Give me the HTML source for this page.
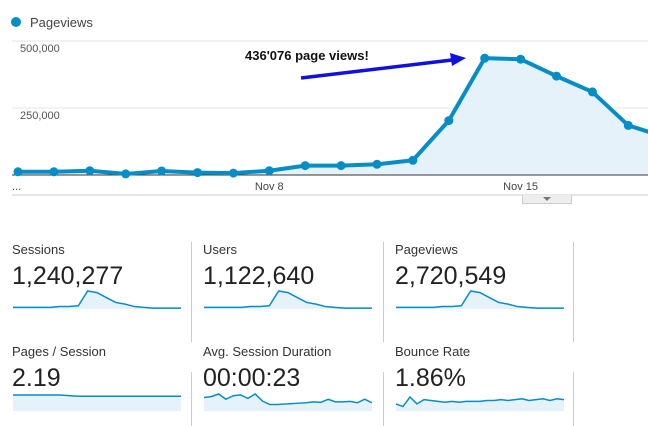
<!DOCTYPE html>
<html><head><meta charset="utf-8"><style>
body{margin:0;width:648px;height:426px;background:#fff;font-family:"Liberation Sans",Arial,sans-serif;overflow:hidden;position:relative}
.t{position:absolute;white-space:nowrap}
.lab{font-size:13px;color:#333}
.val{font-size:25px;color:#222}
.div{position:absolute;width:1px;background:#ccc}
</style></head><body>
<svg id="main" width="648" height="210" style="position:absolute;left:0;top:0"></svg>
<div class="t" style="left:30px;top:15px;font-size:13px;color:#444">Pageviews</div>
<div class="t" style="left:245px;top:48px;font-size:13px;font-weight:bold;color:#111">436'076 page views!</div>
<div style="position:absolute;left:522px;top:195px;width:48px;height:8px;background:#eee;border:1px solid #ccc;border-top:none"><div style="margin:2px auto 0;width:0;height:0;border-left:4px solid transparent;border-right:4px solid transparent;border-top:4px solid #777"></div></div>

<div class="div" style="left:191px;top:242px;height:100px"></div>
<div class="div" style="left:383px;top:242px;height:100px"></div>
<div class="div" style="left:573px;top:242px;height:100px"></div>
<div class="div" style="left:191px;top:372px;height:54px"></div>
<div class="div" style="left:383px;top:372px;height:54px"></div>
<div class="div" style="left:573px;top:372px;height:54px"></div>

<div id="cards"></div>
<script>
const categories=["Nov 1","Nov 2","Nov 3","Nov 4","Nov 5","Nov 6","Nov 7","Nov 8","Nov 9","Nov 10","Nov 11","Nov 12","Nov 13","Nov 14","Nov 15","Nov 16","Nov 17","Nov 18","Nov 19"];
const pageviews=[12000,12000,16000,4000,15000,9000,7000,16000,35000,35000,40000,55000,203000,436076,432000,369000,310000,185000,143000];
const yTicks=[250000,500000];
const yTickLabels=["250,000","500,000"];
const xLabels=[{i:7,t:"Nov 8"},{i:14,t:"Nov 15"}];

const sessionsSpark=[2,2,2,2,2,3,3,4,22,20,14,8,6,3,2,1,1,1,1];
const usersSpark=[2,2,2,2,2,3,3,4,22,20,14,8,6,3,2,1,1,1,1];
const pvSpark=[2,2,2,2,2,3,3,4,22,20,14,8,6,3,2,1,1,1,1];
const ppsSpark=[14,14,14,14,14,14,13.5,13,13,13,13,13,13,13,13,13,13,13,13];
const durSpark=[12,13,16,10,14,15,11,16,8,4,4,4.5,5,5.5,6,7,6.5,10,7,7,7.5,6,10,6];
const bounceSpark=[7,4,15,7,12,11,10,9,10,9,10,10,10,11,11,12,11,12,13,11,12,13,11,13,12];

const NS="http://www.w3.org/2000/svg";
const svg=document.getElementById('main');
function el(tag,attrs,parent){const e=document.createElementNS(NS,tag);for(const k in attrs)e.setAttribute(k,attrs[k]);(parent||svg).appendChild(e);return e;}
const xS=i=>18+i*35.9;
const yS=v=>175-v/500000*134;

// legend dot
let d=el('circle',{cx:16,cy:22,r:5,fill:'#058dc7'});


// gridlines
let g=el('line',{x1:12,x2:648,y1:yS(500000),y2:yS(500000),stroke:'#e6e6e6'});


yTicks.forEach((v,k)=>{
  const l=el('line',{x1:12,x2:648,y1:yS(v),y2:yS(v),stroke:'#e6e6e6'});
  
  
  const t=el('text',{x:20,y:yS(v)+11,'font-size':11,fill:'#555'});t.textContent=yTickLabels[k];
  
  
});
// area
let pts=pageviews.map((v,i)=>xS(i)+','+yS(v)).join(' ');
let a=el('polygon',{points:xS(0)+','+yS(0)+' '+pts+' '+xS(pageviews.length-1)+','+yS(0),fill:'#e6f2f9'});


let ax=el('line',{x1:12,x2:648,y1:175,y2:175,stroke:'#333','stroke-width':1});


let ln=el('polyline',{points:pts,fill:'none',stroke:'#058dc7','stroke-width':4,'stroke-linejoin':'round'});


pageviews.forEach((v,i)=>{
  const c=el('circle',{cx:xS(i),cy:yS(v),r:4.5,fill:'#058dc7'});
  
  
});
xLabels.forEach(o=>{
  const t=el('text',{x:xS(o.i),y:190,'font-size':11,fill:'#444','text-anchor':'middle'});t.textContent=o.t;
  
  
});
let dots=el('text',{x:12,y:190,'font-size':11,fill:'#444'});dots.textContent='...';


let bl=el('line',{x1:12,x2:648,y1:195,y2:195,stroke:'#ccc'});


// arrow
let ar=el('line',{x1:301,y1:78,x2:452,y2:60,stroke:'#1010e0','stroke-width':3.5});


let ah=el('polygon',{points:'466,58 450,53 452,66',fill:'#1010e0'});



// cards
const cards=[
 {n:'sessions',l:'Sessions',v:'1,240,277',x:12,y:242,s:sessionsSpark,max:22,base:309,h:18,fb:309},
 {n:'users',l:'Users',v:'1,122,640',x:203,y:242,s:usersSpark,max:22,base:309,h:18,fb:309},
 {n:'pageviews',l:'Pageviews',v:'2,720,549',x:395,y:242,s:pvSpark,max:22,base:309,h:18,fb:309},
 {n:'pages-per-session',l:'Pages / Session',v:'2.19',x:12,y:344,s:ppsSpark,max:14,base:412,h:17,fb:411},
 {n:'avg-session-duration',l:'Avg. Session Duration',v:'00:00:23',x:203,y:344,s:durSpark,max:16,base:408,h:14,fb:411},
 {n:'bounce-rate',l:'Bounce Rate',v:'1.86%',x:395,y:344,s:bounceSpark,max:15,base:410,h:13,fb:411}
];
const wrap=document.getElementById('cards');
cards.forEach(c=>{
  const lab=document.createElement('div');lab.className='t lab';lab.style.left=c.x+'px';lab.style.top=c.y+'px';lab.textContent=c.l;
  
  
  wrap.appendChild(lab);
  const val=document.createElement('div');val.className='t val';val.style.left=c.x+'px';val.style.top=(c.y+20)+'px';val.textContent=c.v;
  
  
  wrap.appendChild(val);
  const s=document.createElementNS(NS,'svg');s.setAttribute('width',648);s.setAttribute('height',426);
  s.style.position='absolute';s.style.left='0';s.style.top='0';
  
  
  wrap.appendChild(s);
  const x0=c.x+1,x1=c.x+169,n=c.s.length;
  const sx=i=>x0+(x1-x0)*i/(n-1), sy=v=>c.base-v/c.max*c.h;
  const p=c.s.map((v,i)=>sx(i)+','+sy(v)).join(' ');
  el('polygon',{points:x0+','+c.fb+' '+p+' '+x1+','+c.fb,fill:'#e6f2f9'},s);
  el('polyline',{points:p,fill:'none',stroke:'#058dc7','stroke-width':1.5},s);
});
</script>
</body></html>
